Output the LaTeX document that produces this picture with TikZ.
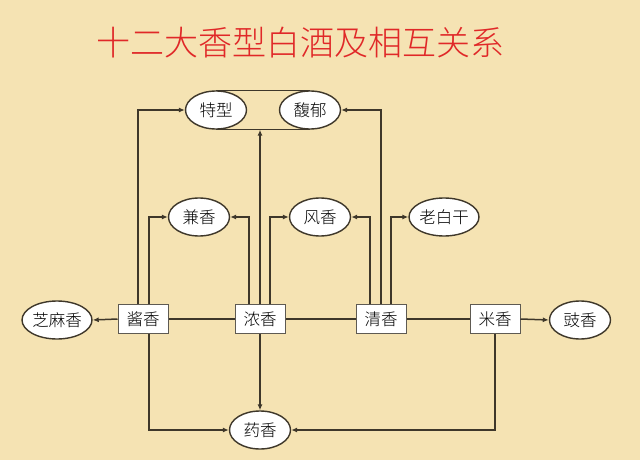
\documentclass[tikz,border=0pt]{standalone}
\usepackage{fontspec}
\newfontfamily\cjk{Noto Sans CJK SC}
\newfontfamily\cjklight[UprightFont={* Light}]{Noto Sans CJK SC}
\usetikzlibrary{shapes.geometric,arrows.meta,calc}
\definecolor{bgc}{HTML}{F5E3B3}
\definecolor{linec}{HTML}{3E372A}
\definecolor{titlec}{HTML}{E02828}
\definecolor{boxc}{HTML}{5E5A52}
\pgfdeclarelayer{bgl}
\pgfdeclarelayer{edges}
\pgfsetlayers{bgl,edges,main}
\tikzset{
  oval/.style={ellipse, draw=linec, line width=1.4pt, fill=white, minimum width=61pt, minimum height=38pt, inner sep=0pt, font=\cjklight\fontsize{16.5}{16.5}\selectfont},
  sq/.style={rectangle, draw=boxc, line width=1pt, fill=white, minimum width=50pt, minimum height=29pt, inner sep=0pt, font=\cjklight\fontsize{16.5}{16.5}\selectfont},
  conn/.style={draw=linec, line width=1.5pt},
  arr/.style={conn, -{Latex[length=6pt,width=5pt]}}
}
\begin{document}
\begin{tikzpicture}[x=1pt,y=-1pt]
\useasboundingbox (0,0) rectangle (640,460);
\begin{pgfonlayer}{bgl}
\fill[bgc] (0,0) rectangle (640,460);
\end{pgfonlayer}
\node[font=\cjklight\fontsize{34}{34}\selectfont, text=titlec] (title) at (300,43) {十二大香型白酒及相互关系};
\node[oval] (tx) at (216,110) {特型};
\node[oval] (fy) at (310,110) {馥郁};
\node[oval] (jx) at (199,217) {兼香};
\node[oval] (fx) at (320,217) {风香};
\node[oval] (lbg) at (444,217) {老白干};
\node[oval] (zmx) at (57,320) {芝麻香};
\node[sq] (jiang) at (143,319) {酱香};
\node[sq] (nong) at (260,319) {浓香};
\node[sq] (qing) at (381,319) {清香};
\node[sq] (mi) at (495,319) {米香};
\node[oval] (chi) at (580,320) {豉香};
\node[oval] (yao) at (260,430) {药香};
\begin{pgfonlayer}{edges}
\draw[conn] (tx.north) -- (fy.north);
\draw[conn] (tx.south) -- (fy.south);
\draw[conn] (jiang) -- (nong) -- (qing) -- (mi);
\end{pgfonlayer}
\draw[arr] (jiang.west) -- (zmx.east);
\draw[arr] (mi.east) -- (chi.west);
\draw[arr] ([xshift=-5pt]jiang.north) |- (tx.west);
\draw[arr] ([xshift=6pt]jiang.north) |- (jx.west);
\draw[arr] ([xshift=6pt]jiang.south) |- (yao.west);
\draw[arr] ([xshift=-11pt]nong.north) |- (jx.east);
\draw[arr] (nong.north) -- (nong.north |- tx.south);
\draw[arr] ([xshift=10pt]nong.north) |- (fx.west);
\draw[arr] (nong.south) -- (yao.north);
\draw[arr] ([xshift=-11pt]qing.north) |- (fx.east);
\draw[arr] (qing.north) |- (fy.east);
\draw[arr] ([xshift=10pt]qing.north) |- (lbg.west);
\draw[arr] (mi.south) |- (yao.east);
\end{tikzpicture}
\end{document}
